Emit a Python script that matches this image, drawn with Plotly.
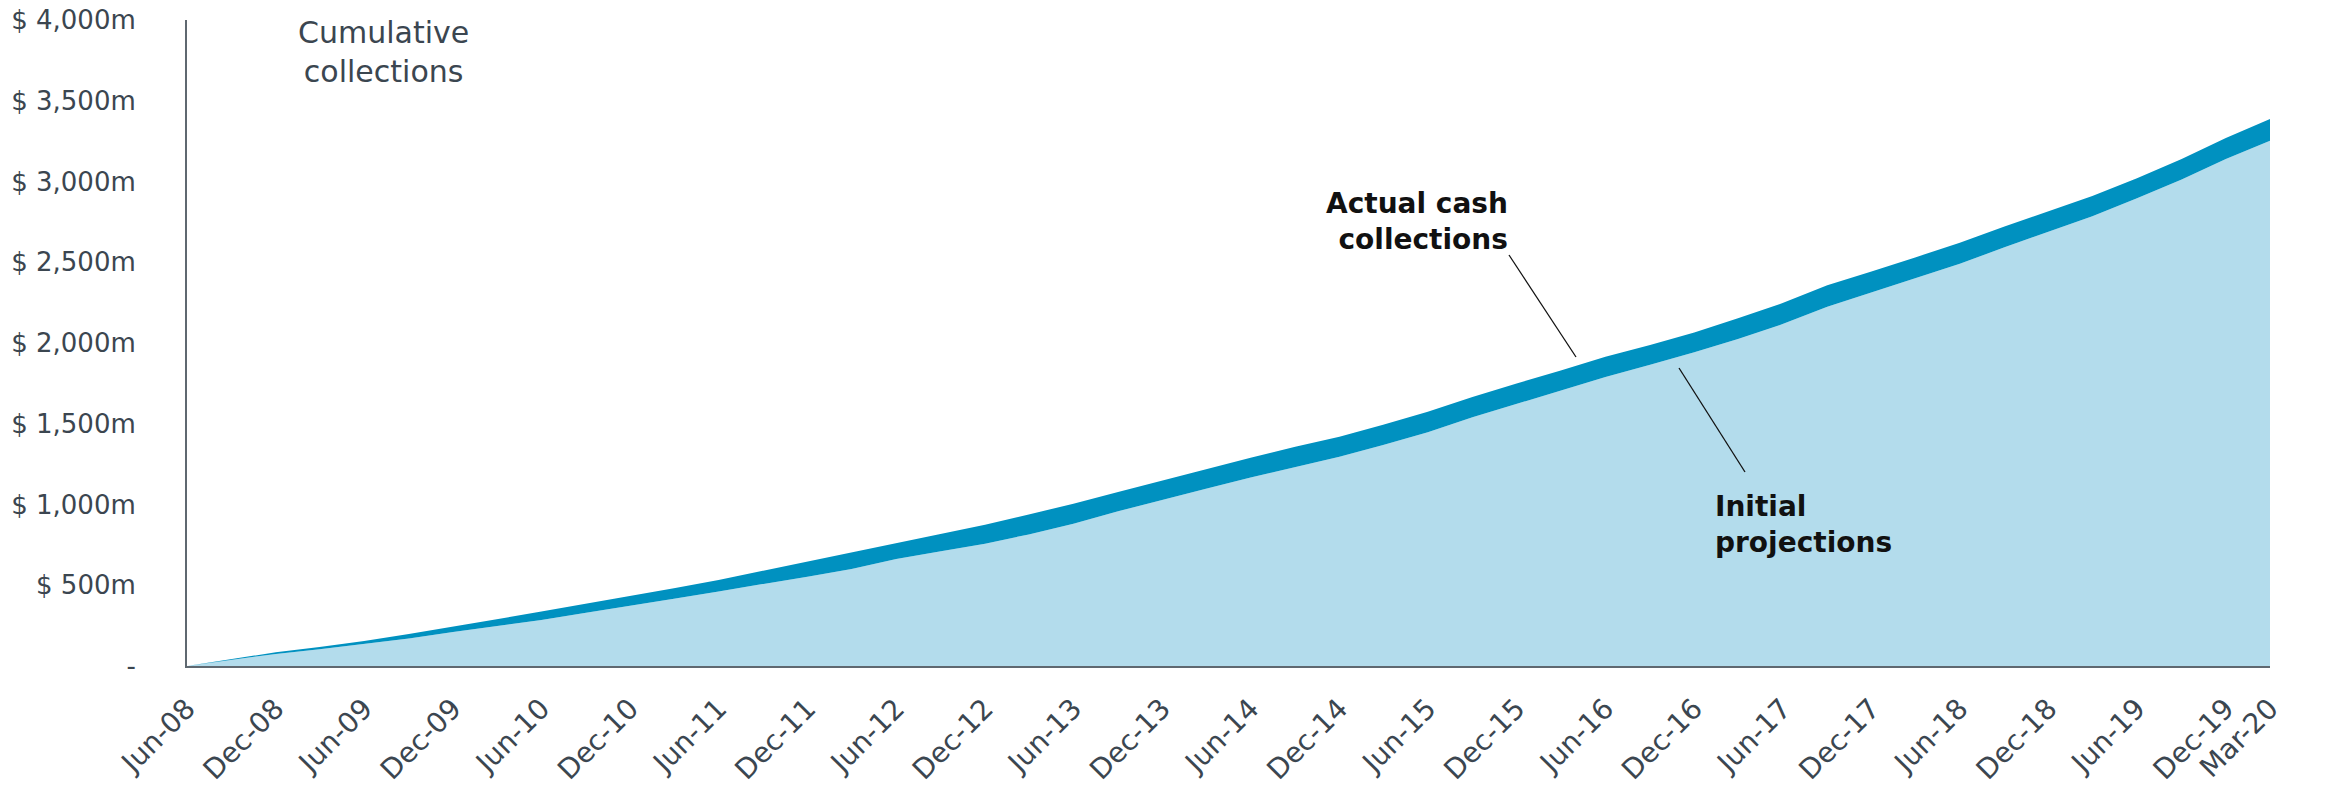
import pandas as pd
import plotly.graph_objects as go

# Quarterly points, Jun-08 .. Mar-20
quarters = pd.date_range("2008-06-01", "2020-03-01", freq="3MS")

actual_collections = [
    0, 42, 85, 118, 155, 198, 246, 290, 337, 385, 433, 482,
    533, 590, 645, 700, 758, 815, 875, 938, 1005, 1077, 1148, 1220,
    1290, 1357, 1420, 1494, 1575, 1665, 1750, 1830, 1915, 1988, 2065, 2153,
    2247, 2358, 2442, 2530, 2620, 2722, 2818, 2910, 3020, 3140, 3270, 3387,
]
initial_projections = [
    0, 37, 75, 103, 135, 170, 211, 247, 285, 330, 371, 416,
    462, 510, 553, 600, 662, 710, 757, 815, 881, 958, 1030, 1097,
    1167, 1233, 1296, 1368, 1447, 1540, 1622, 1703, 1790, 1865, 1943, 2025,
    2117, 2225, 2312, 2400, 2490, 2593, 2690, 2785, 2897, 3012, 3140, 3252,
]

x_tick_dates = list(pd.date_range("2008-06-01", "2019-12-01", freq="6MS")) + [pd.Timestamp("2020-03-01")]
x_tick_labels = [d.strftime("%b-%y") for d in x_tick_dates]

y_tick_values = [0, 500, 1000, 1500, 2000, 2500, 3000, 3500, 4000]
y_tick_labels = ["-", "$ 500m", "$ 1,000m", "$ 1,500m", "$ 2,000m",
                 "$ 2,500m", "$ 3,000m", "$ 3,500m", "$ 4,000m"]

LIGHT = "#b3dcec"
DARK = "#0091c0"
TEXT = "#3b4650"
AXIS = "#5f6870"
FONT = "DejaVu Sans"

fig = go.Figure()
fig.add_trace(go.Scatter(
    x=quarters, y=initial_projections, mode="lines", name="Initial projections",
    line=dict(width=0, color=LIGHT), fill="tozeroy", fillcolor=LIGHT,
))
fig.add_trace(go.Scatter(
    x=quarters, y=actual_collections, mode="lines", name="Actual cash collections",
    line=dict(width=0, color=DARK), fill="tonexty", fillcolor=DARK,
))

W, H = 2328, 796
L, R, T, B = 187, 58, 20, 130
pw, ph = W - L - R, H - T - B


def px(xp):
    return (xp - L) / pw


def py(yp):
    return (H - B - yp) / ph


fig.update_layout(
    width=W, height=H,
    margin=dict(l=L, r=R, t=T, b=B, autoexpand=False),
    paper_bgcolor="white", plot_bgcolor="white",
    showlegend=False, hovermode=False,
    font=dict(family=FONT, color=TEXT, size=26),
    xaxis=dict(
        type="date", range=[quarters[0], quarters[-1]], automargin=False,
        tickvals=x_tick_dates, ticktext=x_tick_labels, tickangle=-45,
        showgrid=False, zeroline=False, showline=True, linecolor=AXIS, linewidth=2,
        ticks="", ticklabelstandoff=13,
        tickfont=dict(family=FONT, size=28, color=TEXT),
    ),
    yaxis=dict(
        range=[0, 4000], tickvals=y_tick_values, ticktext=y_tick_labels, automargin=False,
        showgrid=False, zeroline=False, showline=True, linecolor=AXIS, linewidth=2,
        ticks="", ticklabelstandoff=44,
        tickfont=dict(family=FONT, size=26, color=TEXT),
    ),
)

fig.add_annotation(
    text="Cumulative<br>collections", xref="paper", yref="paper",
    x=px(383), y=py(52), xanchor="center", yanchor="middle", showarrow=False,
    font=dict(family=FONT, size=30, color=TEXT), align="center",
)
fig.add_annotation(
    text="<b>Actual cash<br>collections</b>", xref="paper", yref="paper",
    x=px(1510), y=py(222), xanchor="right", yanchor="middle", showarrow=False,
    font=dict(family=FONT, size=28, color="#111111"), align="right",
)
fig.add_annotation(
    text="<b>Initial<br>projections</b>", xref="paper", yref="paper",
    x=px(1713), y=py(524), xanchor="left", yanchor="middle", showarrow=False,
    font=dict(family=FONT, size=28, color="#111111"), align="left",
)
fig.add_shape(type="line", xref="paper", yref="paper",
              x0=px(1509), y0=py(255), x1=px(1576), y1=py(357),
              line=dict(color="#111111", width=1.3))
fig.add_shape(type="line", xref="paper", yref="paper",
              x0=px(1679), y0=py(368), x1=px(1745), y1=py(472),
              line=dict(color="#111111", width=1.3))

fig.write_html("out.html")
